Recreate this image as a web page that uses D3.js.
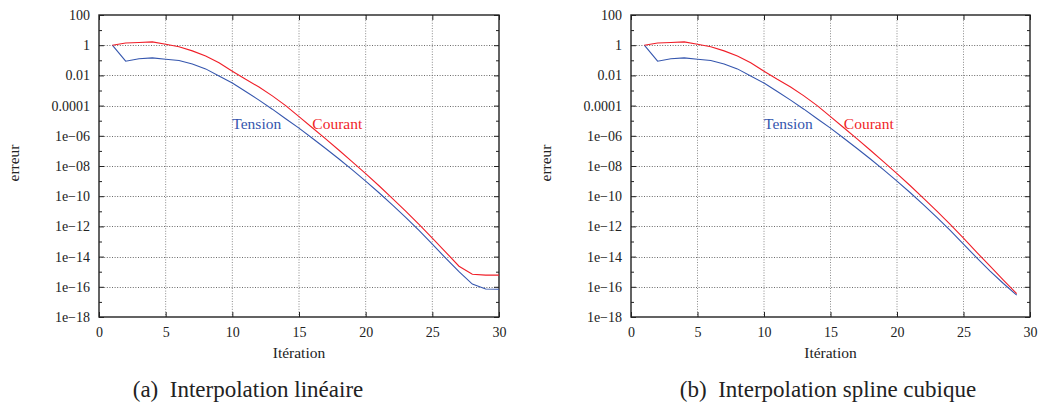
<!DOCTYPE html>
<html><head><meta charset="utf-8">
<script src="https://cdn.jsdelivr.net/npm/d3@7"></script>
<style>body{margin:0;background:#fff} svg text{font-family:"Liberation Serif","DejaVu Serif",serif;}</style>
</head><body>
<svg id="c" width="1040" height="410"></svg>
<script>
// ---- data ----
const iterations = [1,2,3,4,5,6,7,8,9,10,11,12,13,14,15,16,17,18,19,20,21,22,23,24,25,26,27,28,29,30];
const iterationsSpline = [1,2,3,4,5,6,7,8,9,10,11,12,13,14,15,16,17,18,19,20,21,22,23,24,25,26,27,28,29];
const courantLin = [1,1.41,1.51,1.66,1.17,0.8,0.42,0.19,0.068,0.019,0.0055,0.0017,4.4e-4,1.0e-4,1.85e-5,3.4e-6,6.2e-7,1.1e-7,1.86e-8,3.1e-9,4.9e-10,7.2e-11,1.02e-11,1.35e-12,1.7e-13,2.0e-14,2.3e-15,6.8e-16,5.9e-16,5.9e-16];
const tensionLin = [1,0.087,0.126,0.145,0.117,0.096,0.057,0.027,0.0092,0.0031,8.7e-4,2.3e-4,5.8e-5,1.35e-5,3.2e-6,6.9e-7,1.45e-7,2.9e-8,5.5e-9,1.0e-9,1.7e-10,2.7e-11,4.0e-12,5.4e-13,6.6e-14,7.9e-15,1.0e-15,1.5e-16,7.2e-17,6.9e-17];
const courantSpl = [1,1.41,1.51,1.66,1.17,0.8,0.42,0.19,0.068,0.019,0.0055,0.0017,4.4e-4,1.0e-4,1.85e-5,3.4e-6,6.2e-7,1.1e-7,1.86e-8,3.1e-9,4.9e-10,7.2e-11,1.02e-11,1.35e-12,1.7e-13,1.9e-14,2.3e-15,2.8e-16,3.5e-17];
const tensionSpl = [1,0.087,0.126,0.145,0.117,0.096,0.057,0.027,0.0092,0.0031,8.7e-4,2.3e-4,5.8e-5,1.35e-5,3.2e-6,6.9e-7,1.45e-7,2.9e-8,5.5e-9,1.0e-9,1.7e-10,2.7e-11,4.0e-12,5.4e-13,6.6e-14,8.3e-15,1.1e-15,1.66e-16,2.8e-17];
const xTicks = [0,5,10,15,20,25,30];
const yTicks = [100,1,0.01,1e-4,1e-6,1e-8,1e-10,1e-12,1e-14,1e-16,1e-18];
const yTickLabels = ["100","1","0.01","0.0001","1e\u221206","1e\u221208","1e\u221210","1e\u221212","1e\u221214","1e\u221216","1e\u221218"];
const yMinor = [10,0.1,1e-3,1e-5,1e-7,1e-9,1e-11,1e-13,1e-15,1e-17];
const seriesNames = ["Tension","Courant"];
const captions = ["(a)\u2002Interpolation lin\u00e9aire","(b)\u2002Interpolation spline cubique"];
const xTitle = "It\u00e9ration", yTitle = "erreur";

// ---- drawing ----
const svg = d3.select("#c");
svg.append("rect").attr("width",1040).attr("height",410).attr("fill","#fff");
const RED = "#f01e28", BLUE = "#3556ae";
const yTop = 15, yBot = 317;

const panels = [
  {x0:99, x1:499, it:iterations, c:courantLin, t:tensionLin, cap:captions[0], capX:248, yl:15},
  {x0:631, x1:1030, it:iterationsSpline, c:courantSpl, t:tensionSpl, cap:captions[1], capX:828, yl:547}
];

panels.forEach(p => {
  const x = d3.scaleLinear().domain([0,30]).range([p.x0,p.x1]);
  const y = d3.scaleLog().domain([1e-18,100]).range([yBot,yTop]);
  const g = svg.append("g");

  // grid
  g.selectAll(".gx").data(xTicks.slice(1,-1)).join("line")
    .attr("x1",d=>x(d)).attr("x2",d=>x(d)).attr("y1",yTop).attr("y2",yBot)
    .attr("stroke","#8a8a8a").attr("stroke-width",1).attr("stroke-dasharray","1,1.6");
  g.selectAll(".gy").data(yTicks.slice(1,-1)).join("line")
    .attr("x1",p.x0).attr("x2",p.x1).attr("y1",d=>Math.round(y(d))+0.5).attr("y2",d=>Math.round(y(d))+0.5)
    .attr("stroke","#6a6a6a").attr("stroke-width",1).attr("stroke-dasharray","1,1.6");

  // axes (labels + inward ticks)
  const ax = g.append("g").attr("transform",`translate(0,${yBot})`)
    .call(d3.axisBottom(x).tickValues(xTicks).tickSize(-5).tickPadding(10).tickFormat(d3.format("d")));
  const axT = g.append("g").attr("transform",`translate(0,${yTop})`)
    .call(d3.axisTop(x).tickValues(xTicks).tickSize(-5).tickFormat(""));
  const ay = g.append("g").attr("transform",`translate(${p.x0},0)`)
    .call(d3.axisLeft(y).tickValues(yTicks).tickSize(-5).tickPadding(9).tickFormat((d,i)=>yTickLabels[i]));
  const ayR = g.append("g").attr("transform",`translate(${p.x1},0)`)
    .call(d3.axisRight(y).tickValues(yTicks).tickSize(-5).tickFormat(""));
  const ayM = g.append("g").attr("transform",`translate(${p.x0},0)`)
    .call(d3.axisLeft(y).tickValues(yMinor).tickSize(-3).tickFormat(""));
  const ayMR = g.append("g").attr("transform",`translate(${p.x1},0)`)
    .call(d3.axisRight(y).tickValues(yMinor).tickSize(-3).tickFormat(""));
  [ax,axT,ay,ayR,ayM,ayMR].forEach(a=>{
    a.attr("font-family",null).attr("font-size",null);
    a.select(".domain").remove();
    a.selectAll("line").attr("stroke","#222");
    a.selectAll("text").style("font-size","14px").attr("fill","#222");
  });

  // frame
  g.append("rect").attr("x",p.x0).attr("y",yTop).attr("width",p.x1-p.x0).attr("height",yBot-yTop)
    .attr("fill","none").attr("stroke","#222").attr("stroke-width",1.4);

  // lines
  const line = vals => d3.line().x((d,i)=>x(p.it[i])).y(d=>y(d))(vals);
  g.append("path").attr("d",line(p.t)).attr("fill","none").attr("stroke",BLUE).attr("stroke-width",1.1);
  g.append("path").attr("d",line(p.c)).attr("fill","none").attr("stroke",RED).attr("stroke-width",1.1);

  // series labels
  g.append("text").attr("x",x(10)).attr("y",y(3e-6)).text(seriesNames[0])
    .style("font-size","15.5px").attr("fill",BLUE);
  g.append("text").attr("x",x(16)).attr("y",y(3e-6)).text(seriesNames[1])
    .style("font-size","15.5px").attr("fill",RED);

  // axis titles
  g.append("text").attr("x",(p.x0+p.x1)/2).attr("y",358).attr("text-anchor","middle")
    .style("font-size","15.5px").attr("fill","#222").text(xTitle);
  g.append("text").attr("transform",`translate(${p.yl+4},163) rotate(-90)`).attr("text-anchor","middle")
    .style("font-size","15.5px").attr("fill","#222").text(yTitle);

  // caption
  g.append("text").attr("x",p.capX).attr("y",397).attr("text-anchor","middle")
    .style("font-size","23px").attr("fill","#222").text(p.cap);
});
</script>
</body></html>
